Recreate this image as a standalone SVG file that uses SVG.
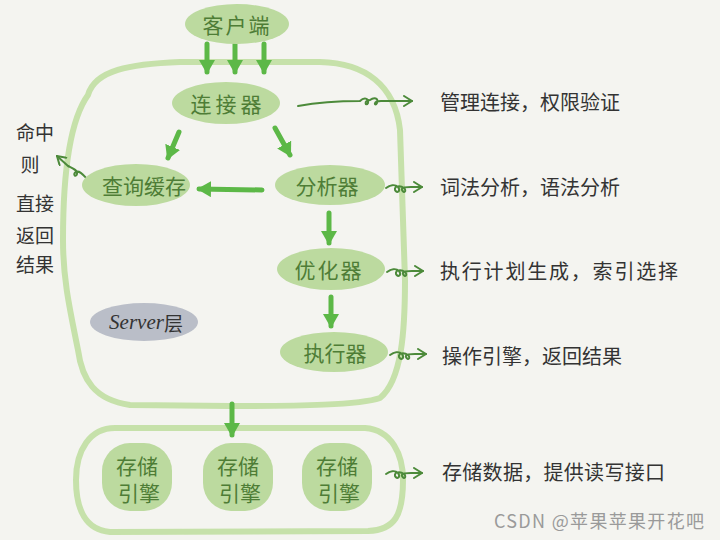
<svg xmlns="http://www.w3.org/2000/svg" width="720" height="540" viewBox="0 0 720 540">
<style>
.bg{fill:#f4f4f0}
.node{fill:#bcda9f}
.ntext{font-family:"Noto Sans CJK SC","Noto Sans",sans-serif;font-size:21px;fill:#4e7d36;text-anchor:middle;dominant-baseline:central}
.outline{fill:none;stroke:#c6e1aa;stroke-width:6;stroke-linejoin:round}
.arrow{fill:none;stroke:#5cb847;stroke-width:5;stroke-linecap:round}
.sq{fill:none;stroke:#4c8a3a;stroke-width:2;stroke-linecap:round;stroke-linejoin:round}
.side{font-family:"Noto Sans CJK SC","Noto Sans",sans-serif;font-size:20px;fill:#333333;dominant-baseline:central}
.vert{font-family:"Noto Sans CJK SC","Noto Sans",sans-serif;font-size:19px;fill:#333333;text-anchor:middle;dominant-baseline:central}
.wm{font-family:"Noto Sans CJK SC","Liberation Sans",sans-serif;font-size:18px;fill:#9a9a9a}
</style>
<defs>
<marker id="tri" viewBox="0 0 14 16" refX="12" refY="8" markerWidth="14" markerHeight="16" markerUnits="userSpaceOnUse" orient="auto">
<path d="M0,0 L14,8 L0,16 Z" fill="#5cb847"/>
</marker>
<marker id="open" viewBox="0 0 10 12" refX="9" refY="6" markerWidth="10" markerHeight="12" markerUnits="userSpaceOnUse" orient="auto">
<path d="M1,1 L9,6 L1,11" fill="none" stroke="#4c8a3a" stroke-width="2" stroke-linecap="round"/>
</marker>
<path id="squig" class="sq" marker-end="url(#open)" d="M0,0 C4,-3 9,-4 12,-1 C15,3 11,6 9,2 C8,-2 14,-3 18,0 C21,3 18,6 16,2 C15,-1 20,-1 25,-1 L36,-1"/>
</defs>
<rect class="bg" x="0" y="0" width="720" height="540"/>

<g id="server-outline">
<path class="outline" d="M88,95 C95,70 130,64 180,62 L320,62 C365,63 395,85 400,130 L405,280 C405,330 402,380 380,398 C360,405 300,406 230,406 L130,405 C95,400 82,380 78,350 C70,310 63,280 63,240 C63,170 70,120 88,95 Z"/>
</g>
<g id="storage-outline">
<path class="outline" d="M115,428 L365,428 C392,430 403,455 403,480 C403,515 395,530 368,531 L110,532 C86,530 76,510 76,480 C76,450 90,428 115,428 Z"/>
</g>

<g id="connectors">
<line class="arrow" x1="207" y1="44" x2="207" y2="72" marker-end="url(#tri)"/>
<line class="arrow" x1="235" y1="44" x2="235" y2="72" marker-end="url(#tri)"/>
<line class="arrow" x1="264" y1="44" x2="264" y2="72" marker-end="url(#tri)"/>
<line class="arrow" x1="179" y1="132" x2="168" y2="158" marker-end="url(#tri)"/>
<line class="arrow" x1="275" y1="128" x2="290" y2="155" marker-end="url(#tri)"/>
<line class="arrow" x1="262" y1="190" x2="199" y2="189" marker-end="url(#tri)"/>
<line class="arrow" x1="329" y1="213" x2="329" y2="243" marker-end="url(#tri)"/>
<line class="arrow" x1="331" y1="297" x2="331" y2="326" marker-end="url(#tri)"/>
<line class="arrow" x1="232" y1="404" x2="232" y2="435" marker-end="url(#tri)"/>
<path class="sq" marker-end="url(#open)" d="M298,106 C320,102 345,101 360,101 C364,97 369,98 368,103 C366,107 363,101 370,100 C374,97 379,98 377,103 C375,107 372,101 381,101 L412,101"/>
<use href="#squig" x="386" y="188"/>
<use href="#squig" x="387" y="272"/>
<use href="#squig" x="390" y="355"/>
<use href="#squig" x="386" y="474"/>
<path class="sq" marker-end="url(#open)" d="M88,180 C84,176 80,170 76,172 C72,174 76,178 77,174 C78,170 72,168 68,166 L57,156"/>
</g>

<g id="client">
<ellipse class="node" cx="237" cy="24" rx="52" ry="20"/>
<text class="ntext" x="237" y="24" letter-spacing="2">客户端</text>
</g>
<g id="connector-node">
<ellipse class="node" cx="226" cy="103" rx="54" ry="21"/>
<text class="ntext" x="228" y="103" letter-spacing="4">连接器</text>
</g>
<g id="query-cache">
<ellipse class="node" cx="136" cy="185" rx="54" ry="21"/>
<text class="ntext" x="144" y="185">查询缓存</text>
</g>
<g id="analyzer">
<ellipse class="node" cx="330" cy="185" rx="55" ry="20"/>
<text class="ntext" x="327" y="185">分析器</text>
</g>
<g id="optimizer">
<ellipse class="node" cx="331" cy="269" rx="54" ry="21"/>
<text class="ntext" x="329" y="269" letter-spacing="2">优化器</text>
</g>
<g id="executor">
<ellipse class="node" cx="334" cy="352" rx="54" ry="20"/>
<text class="ntext" x="335" y="352">执行器</text>
</g>
<g id="server-label">
<ellipse cx="144" cy="322" rx="54" ry="19" fill="#babec8"/>
<text x="146" y="322" text-anchor="middle" dominant-baseline="central" font-family="Liberation Serif, serif" font-style="italic" font-size="21" fill="#333333">Server<tspan font-family="Noto Sans CJK SC, sans-serif" font-style="normal" font-size="19">层</tspan></text>
</g>
<g id="engine-1">
<rect class="node" x="102" y="443" width="70" height="68" rx="28"/>
<text class="ntext" x="137" y="465">存储</text>
<text class="ntext" x="139" y="492">引擎</text>
</g>
<g id="engine-2">
<rect class="node" x="203" y="443" width="70" height="68" rx="28"/>
<text class="ntext" x="238" y="465">存储</text>
<text class="ntext" x="240" y="492">引擎</text>
</g>
<g id="engine-3">
<rect class="node" x="302" y="443" width="70" height="68" rx="28"/>
<text class="ntext" x="337" y="465">存储</text>
<text class="ntext" x="339" y="492">引擎</text>
</g>

<g id="side-labels">
<text class="side" x="440" y="101">管理连接，权限验证</text>
<text class="side" x="440" y="186">词法分析，语法分析</text>
<text class="side" x="440" y="270" textLength="238">执行计划生成，索引选择</text>
<text class="side" x="442" y="355">操作引擎，返回结果</text>
<text class="side" x="442" y="471" textLength="223">存储数据，提供读写接口</text>
</g>
<g id="hit-label">
<text class="vert" x="35" y="131">命中</text>
<text class="vert" x="30" y="163">则</text>
<text class="vert" x="35" y="202">直接</text>
<text class="vert" x="35" y="234">返回</text>
<text class="vert" x="35" y="263">结果</text>
</g>
<text class="wm" x="494" y="528" textLength="210">CSDN @苹果苹果开花吧</text>
</svg>
